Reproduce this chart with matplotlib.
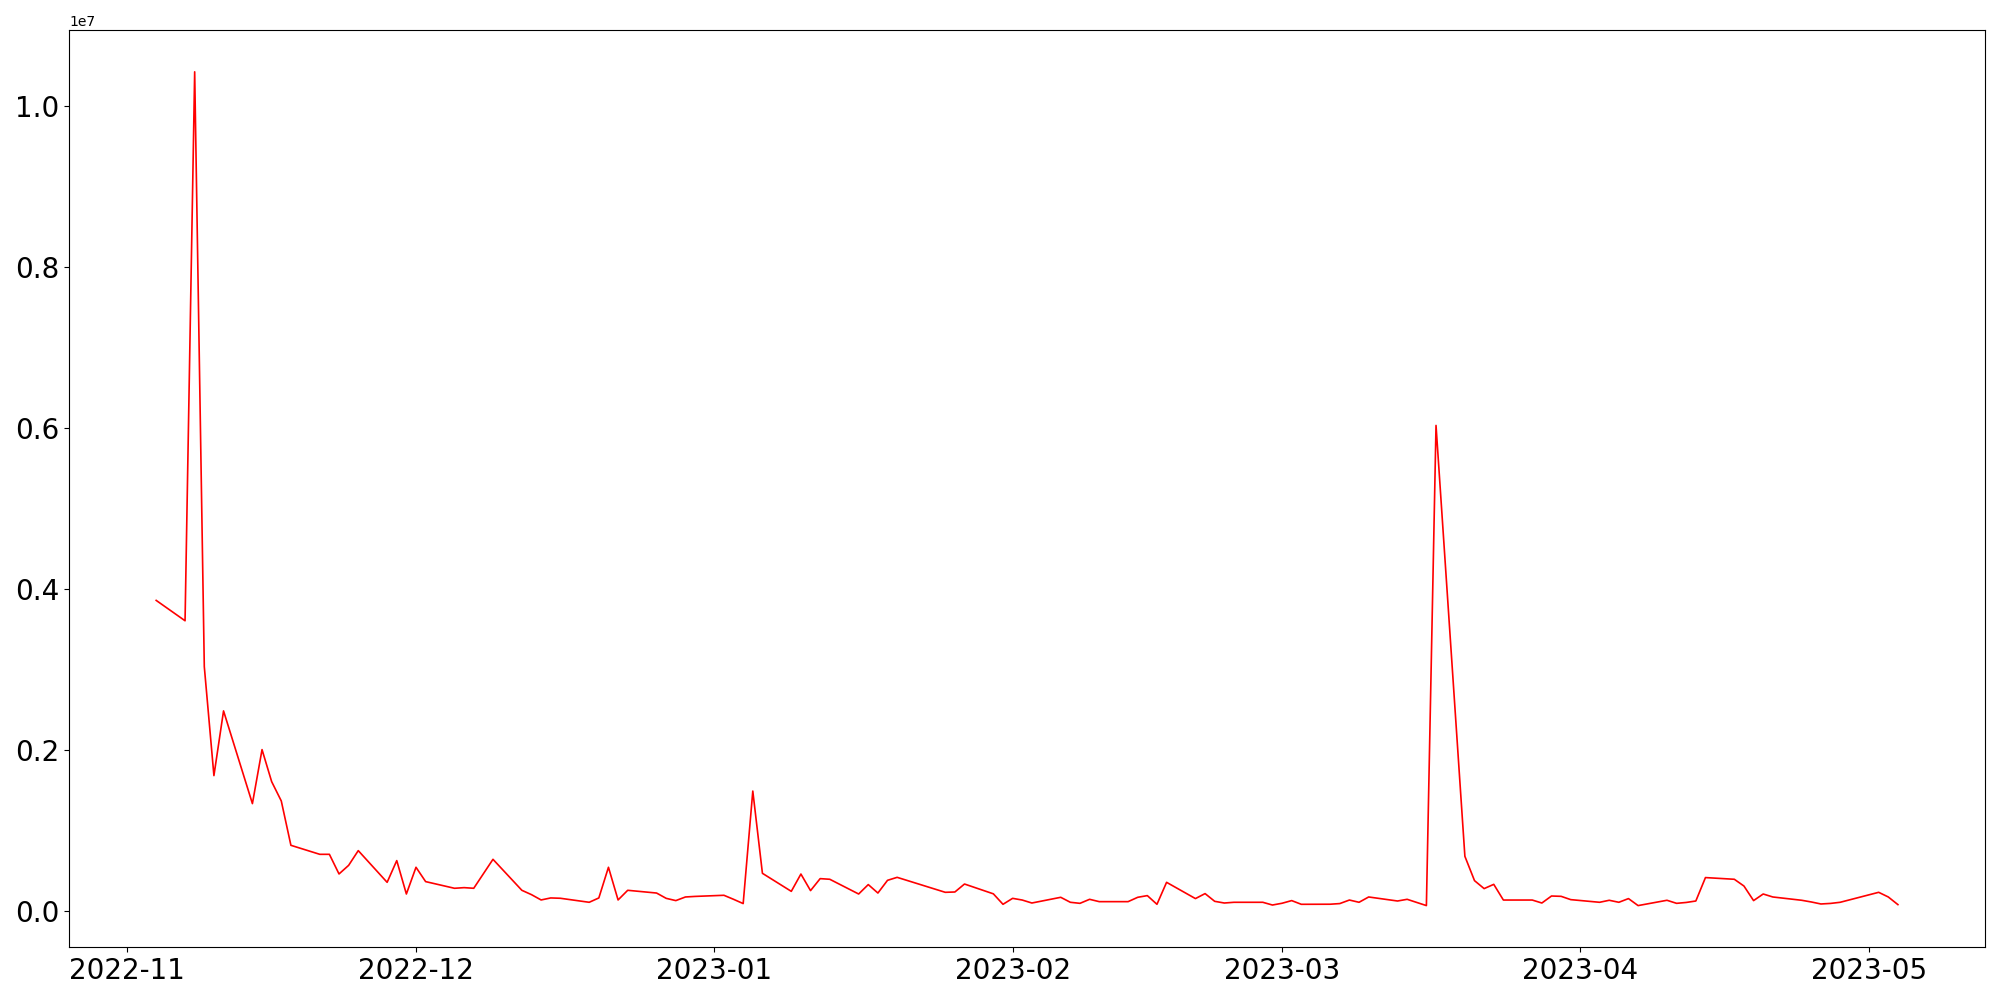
import matplotlib
matplotlib.use("Agg")
import matplotlib.pyplot as plt
import pandas as pd

# trading days and values
dates = [
    "2022-11-04", "2022-11-07", "2022-11-08", "2022-11-09", "2022-11-10", "2022-11-11",
    "2022-11-14", "2022-11-15", "2022-11-16", "2022-11-17", "2022-11-18",
    "2022-11-21", "2022-11-22", "2022-11-23", "2022-11-24", "2022-11-25",
    "2022-11-28", "2022-11-29", "2022-11-30", "2022-12-01", "2022-12-02",
    "2022-12-05", "2022-12-06", "2022-12-07", "2022-12-08", "2022-12-09",
    "2022-12-12", "2022-12-13", "2022-12-14", "2022-12-15", "2022-12-16",
    "2022-12-19", "2022-12-20", "2022-12-21", "2022-12-22", "2022-12-23",
    "2022-12-26", "2022-12-27", "2022-12-28", "2022-12-29", "2022-12-30",
    "2023-01-02", "2023-01-03", "2023-01-04", "2023-01-05", "2023-01-06",
    "2023-01-09", "2023-01-10", "2023-01-11", "2023-01-12", "2023-01-13",
    "2023-01-16", "2023-01-17", "2023-01-18", "2023-01-19", "2023-01-20",
    "2023-01-25", "2023-01-26", "2023-01-27",
    "2023-01-30", "2023-01-31", "2023-02-01", "2023-02-02", "2023-02-03",
    "2023-02-06", "2023-02-07", "2023-02-08", "2023-02-09", "2023-02-10",
    "2023-02-13", "2023-02-14", "2023-02-15", "2023-02-16", "2023-02-17",
    "2023-02-20", "2023-02-21", "2023-02-22", "2023-02-23", "2023-02-24",
    "2023-02-27", "2023-02-28", "2023-03-01", "2023-03-02", "2023-03-03",
    "2023-03-06", "2023-03-07", "2023-03-08", "2023-03-09", "2023-03-10",
    "2023-03-13", "2023-03-14", "2023-03-15", "2023-03-16", "2023-03-17",
    "2023-03-20", "2023-03-21", "2023-03-22", "2023-03-23", "2023-03-24",
    "2023-03-27", "2023-03-28", "2023-03-29", "2023-03-30", "2023-03-31",
    "2023-04-03", "2023-04-04", "2023-04-05", "2023-04-06", "2023-04-07",
    "2023-04-10", "2023-04-11", "2023-04-12", "2023-04-13", "2023-04-14",
    "2023-04-17", "2023-04-18", "2023-04-19", "2023-04-20", "2023-04-21",
    "2023-04-24", "2023-04-25", "2023-04-26", "2023-04-27", "2023-04-28",
    "2023-05-02", "2023-05-03", "2023-05-04",
]

values = [
    3863000, 3610000, 10430000, 3040000, 1686000, 2490000,
    1338000, 2009000, 1611000, 1371000, 820000,
    708000, 708000, 464000, 571000, 754000,
    360000, 630000, 215000, 547000, 369000,
    286000, 294000, 286000, 466000, 646000,
    261000, 207000, 141000, 166000, 162000,
    112000, 166000, 547000, 141000, 261000,
    227000, 161000, 133000, 178000, 185000,
    199000, 149000, 96000, 1494000, 472000,
    248000, 463000, 257000, 406000, 398000,
    215000, 332000, 227000, 385000, 422000,
    236000, 240000, 339000,
    217000, 87000, 161000, 140000, 103000,
    174000, 112000, 99000, 149000, 120000,
    120000, 174000, 195000, 87000, 360000,
    158000, 220000, 124000, 103000, 112000,
    112000, 78000, 100000, 133000, 87000,
    88000, 96000, 140000, 112000, 178000,
    128000, 149000, 110000, 71000, 6037000,
    683000, 381000, 282000, 335000, 140000,
    140000, 103000, 190000, 186000, 145000,
    112000, 137000, 112000, 158000, 71000,
    137000, 99000, 110000, 128000, 419000,
    398000, 314000, 133000, 215000, 178000,
    137000, 116000, 91000, 98000, 112000,
    236000, 178000, 83000,
]

x = pd.to_datetime(dates)

plt.figure(figsize=(20, 10), dpi=100)
plt.plot(x, values, color="red", linewidth=1.2)
plt.xticks(fontsize=20)
plt.yticks(fontsize=20)
plt.tight_layout()
plt.savefig("out.png")
